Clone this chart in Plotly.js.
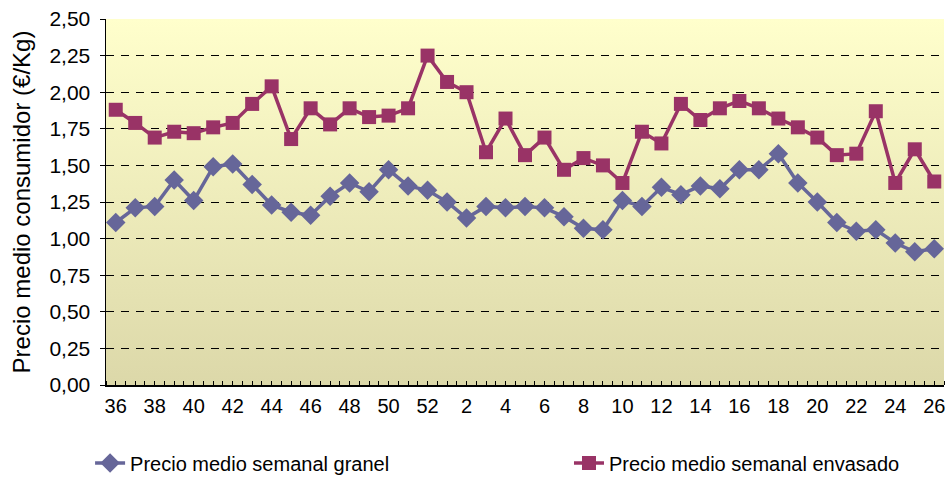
<!DOCTYPE html>
<html>
<head>
<meta charset="utf-8">
<script src="https://cdn.plot.ly/plotly-3.0.1.min.js"></script>
<style>html,body{margin:0;padding:0;background:#fff;}#chart{width:950px;height:482px;}</style>
</head>
<body>
<div id="chart"></div>
<script>
// Semanas (categorías del eje X)
const weeks = ['36','37','38','39','40','41','42','43','44','45','46','47','48','49','50','51','52',
  '1','2','3','4','5','6','7','8','9','10','11','12','13','14','15','16','17','18','19','20','21','22','23','24','25','26'];
// Precio medio semanal granel (€/Kg)
const granel = [1.11,1.21,1.22,1.40,1.26,1.49,1.51,1.37,1.23,1.18,1.16,1.29,1.38,1.32,1.47,1.36,1.33,
  1.25,1.14,1.22,1.21,1.22,1.21,1.15,1.07,1.06,1.26,1.22,1.35,1.30,1.36,1.34,1.47,1.47,1.58,1.38,1.25,1.11,1.05,1.06,0.97,0.91,0.93];
// Precio medio semanal envasado (€/Kg)
const envasado = [1.88,1.79,1.69,1.73,1.72,1.76,1.79,1.92,2.04,1.68,1.89,1.78,1.89,1.83,1.84,1.89,2.25,
  2.07,2.00,1.59,1.82,1.57,1.69,1.47,1.55,1.50,1.38,1.73,1.65,1.92,1.81,1.89,1.94,1.89,1.82,1.76,1.69,1.57,1.58,1.87,1.38,1.61,1.39];
const seriesNames = ['Precio medio semanal granel','Precio medio semanal envasado'];
const yTitle = 'Precio medio consumidor (€/Kg)';

const idx = weeks.map((w,i)=>i);
const tickIdx = idx.filter(i => i % 2 === 0);
const tickTxt = tickIdx.map(i => weeks[i]);

const bgSvg = "<svg xmlns='http://www.w3.org/2000/svg' width='100' height='100' preserveAspectRatio='none'>" +
  "<defs><linearGradient id='g' x1='0' y1='0' x2='0' y2='1'>" +
  "<stop offset='0' stop-color='#FFFFCC'/><stop offset='1' stop-color='#DCD8A9'/>" +
  "</linearGradient></defs><rect width='100' height='100' fill='url(#g)'/></svg>";

const traces = [
  {x: idx, y: granel, name: seriesNames[0], type: 'scatter', mode: 'lines+markers',
   line: {color: '#666699', width: 3.5},
   marker: {symbol: 'diamond', size: 15, color: '#666699'}, legend: 'legend'},
  {x: idx, y: envasado, name: seriesNames[1], type: 'scatter', mode: 'lines+markers',
   line: {color: '#993366', width: 3.5},
   marker: {symbol: 'square', size: 14, color: '#993366'}, legend: 'legend2'}
];

const legendFont = {family: 'Liberation Sans, Arial, sans-serif', size: 20, color: '#000'};

const layout = {
  width: 950, height: 482,
  margin: {l: 106, r: 6, t: 19, b: 97, autoexpand: false},
  paper_bgcolor: '#ffffff',
  plot_bgcolor: 'rgba(0,0,0,0)',
  separators: ',.',
  showlegend: true,
  font: {family: 'Liberation Sans, Arial, sans-serif', color: '#000'},
  images: [{source: 'data:image/svg+xml;charset=utf-8,' + encodeURIComponent(bgSvg),
    xref: 'paper', yref: 'paper', x: 0, y: 1, sizex: 1, sizey: 1,
    sizing: 'stretch', xanchor: 'left', yanchor: 'top', layer: 'below'}],
  xaxis: {
    range: [-0.5, weeks.length - 0.5],
    tickmode: 'array', tickvals: tickIdx, ticktext: tickTxt,
    ticks: '', showgrid: false, zeroline: false,
    showline: true, linecolor: '#000', linewidth: 1.5,
    tickfont: {family: 'Liberation Sans, Arial, sans-serif', size: 20, color: '#000'},
    ticklabelstandoff: 2,
    minor: {ticks: 'inside', tick0: -0.5, dtick: 0.5, ticklen: 4, tickcolor: '#000', tickwidth: 1, showgrid: false}
  },
  yaxis: {
    range: [0, 2.5], dtick: 0.25, tickformat: '.2f',
    ticks: 'outside', ticklen: 5, tickcolor: '#000',
    showline: true, linecolor: '#000', linewidth: 1.5,
    showgrid: true, gridcolor: '#000', gridwidth: 1, griddash: '8px,7px',
    zeroline: false,
    ticklabelstandoff: 5,
    tickfont: {family: 'Liberation Sans, Arial, sans-serif', size: 21, color: '#000'},
    title: {text: yTitle, font: {family: 'Liberation Sans, Arial, sans-serif', size: 24, color: '#000'}, standoff: 12}
  },
  legend: {
    orientation: 'h', x: -0.019, xanchor: 'left', y: -0.213, yanchor: 'middle',
    font: legendFont, bgcolor: 'rgba(0,0,0,0)'
  },
  legend2: {
    orientation: 'h', x: 0.5525, xanchor: 'left', y: -0.213, yanchor: 'middle',
    font: legendFont, bgcolor: 'rgba(0,0,0,0)'
  }
};

Plotly.newPlot('chart', traces, layout, {displayModeBar: false, staticPlot: true});
</script>
</body>
</html>
